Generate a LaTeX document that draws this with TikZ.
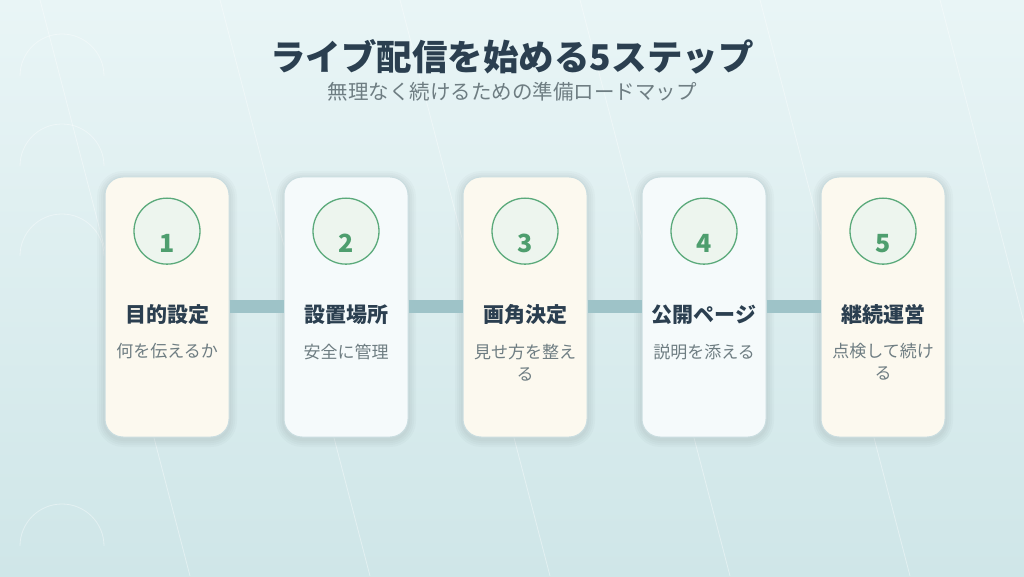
\documentclass[tikz,border=0pt]{standalone}
\usepackage{fontspec}
\setmainfont{Noto Sans CJK JP}
\usetikzlibrary{positioning}
\definecolor{bgtop}{HTML}{E9F5F6}
\definecolor{bgbot}{HTML}{CFE6E8}
\definecolor{ink}{HTML}{2B3F50}
\definecolor{subink}{HTML}{6E7D82}
\definecolor{creamcard}{HTML}{FCF9EF}
\definecolor{icecard}{HTML}{F5FAFB}
\definecolor{cardline}{HTML}{CADDE0}
\definecolor{barcol}{HTML}{9EC3C8}
\definecolor{ringcol}{HTML}{5BAA7B}
\definecolor{ringfill}{HTML}{EDF5EE}
\definecolor{numcol}{HTML}{4E9E6E}

\begin{document}
\begin{tikzpicture}[x=1pt,y=1pt,
	card/.style={draw=cardline, line width=1pt, rounded corners=18pt,
		minimum width=124pt, minimum height=260pt, inner sep=0pt},
	ring/.style={circle, draw=ringcol, line width=1.3pt, fill=ringfill,
		minimum size=66pt, inner sep=0pt},
	numtext/.style={text=numcol, font=\bfseries\fontsize{25}{27}\selectfont},
	headtext/.style={text=ink, font=\bfseries\fontsize{21}{24}\selectfont},
	subtext/.style={text=subink, font=\fontsize{17}{22}\selectfont,
		align=center, inner sep=0pt},
	bar/.style={barcol, line width=13pt},
	deco/.style={white, opacity=0.4, line width=0.8pt}]
	\useasboundingbox (0,0) rectangle (1024,576);
	\shade[top color=bgtop, bottom color=bgbot] (0,0) rectangle (1024,576);

	% faint background lines and arcs
	\foreach \x in {40,220,400,580,760,940}{
		\draw[deco] (\x,576) -- (\x+150,0);
	}
	\foreach \y in {530,440,350,60}{
		\draw[deco] (20,\y-30) arc (180:0:42);
	}

	% heading
	\node[text=ink, font=\bfseries\fontsize{35.5}{40}\selectfont] (title) at (512,519) {ライブ配信を始める5ステップ};
	\node[text=subink, font=\fontsize{20.5}{24}\selectfont] (subtitle) at (512,484) {無理なく続けるための準備ロードマップ};

	% cards
	\foreach \i/\cx/\head/\sub/\fillc in {1/167/目的設定/何を伝えるか/creamcard,
		2/346/設置場所/安全に管理/icecard,
		3/525/画角決定/{見せ方を整え\\る}/creamcard,
		4/704/公開ページ/説明を添える/icecard,
		5/883/継続運営/{点検して続け\\る}/creamcard}{
		\foreach \s in {2,4,6,8}{
			\fill[black, opacity=0.018, rounded corners=18pt+\s] (\cx-62-\s,137-\s) rectangle (\cx+62+\s,397+\s);
		}
		\node[card, fill=\fillc] (card\i) at (\cx,269) {};
		\node[ring, below=21pt of card\i.north] (ring\i) {};
		\node[numtext] (num\i) at ([yshift=-12pt]ring\i.center) {\i};
		\node[headtext] (head\i) at ([yshift=-138pt]card\i.north) {\head};
		\node[subtext, anchor=north] (sub\i) at ([yshift=-167pt]card\i.north) {\sub};
	}

	% connectors
	\foreach \i/\j in {1/2,2/3,3/4,4/5}{
		\draw[bar] (card\i.east) -- (card\j.west);
	}
\end{tikzpicture}
\end{document}
